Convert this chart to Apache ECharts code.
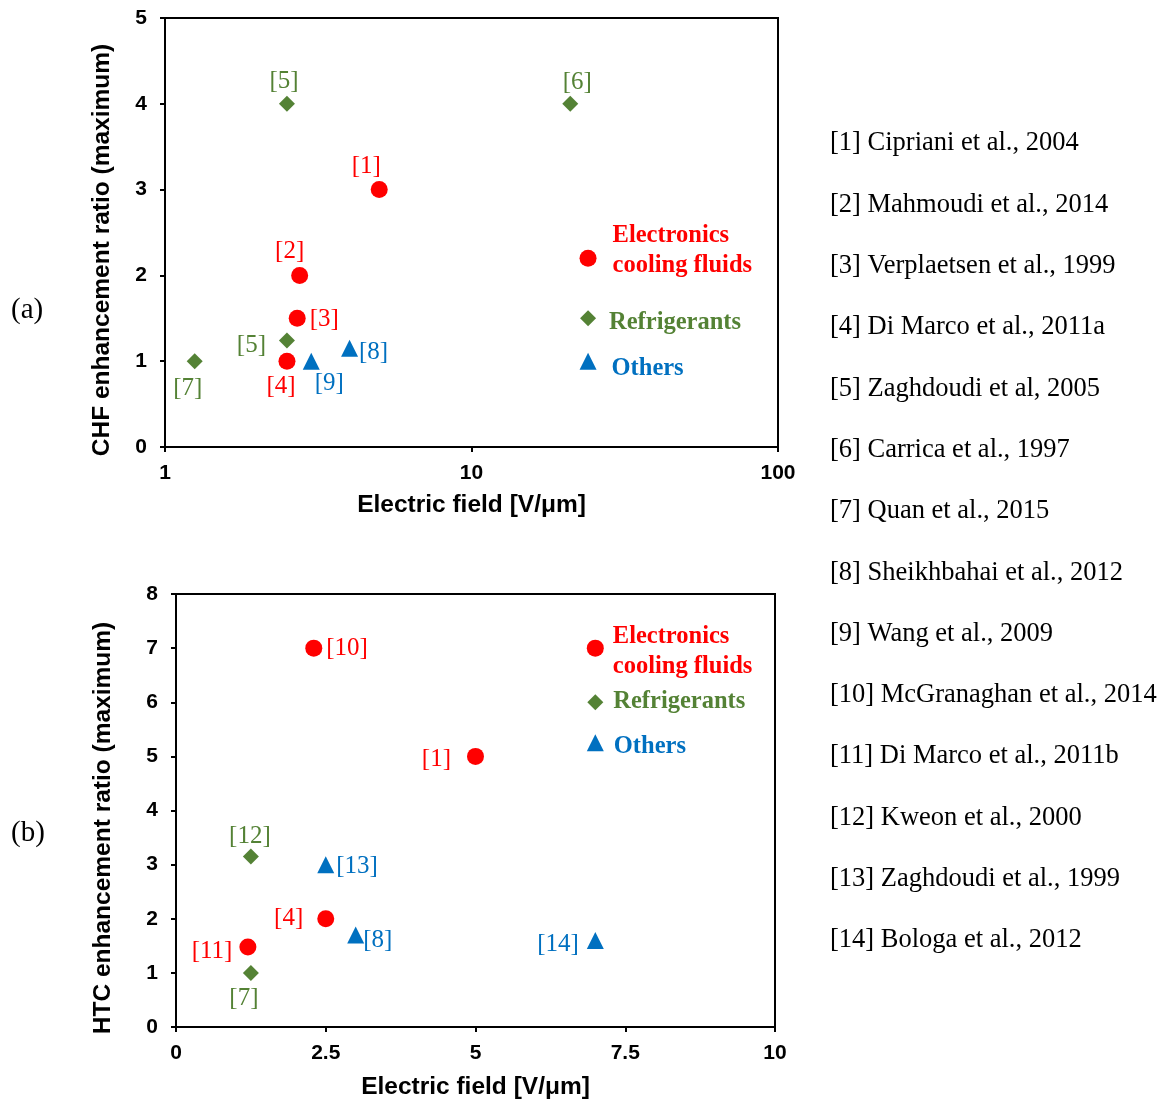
<!DOCTYPE html>
<html lang="en">
<head>
    <meta charset="UTF-8">
    <title>EHD enhancement ratios</title>
    <script src="https://cdn.jsdelivr.net/npm/echarts/dist/echarts.min.js"></script>
    <style>
        html, body { margin: 0; padding: 0; background: #fff; }
        #chart { width: 1166px; height: 1103px; }
    </style>
</head>
<body>
<div id="chart"></div>
<script>
    // (a) CHF enhancement, log x
    var aElecRefs = ['[1]', '[2]', '[3]', '[4]'];
    var aElecX = [5, 2.75, 2.7, 2.5];
    var aElecY = [3, 2, 1.5, 1];
    var aRefrRefs = ['[5]', '[6]', '[5]', '[7]'];
    var aRefrX = [2.5, 21, 2.5, 1.25];
    var aRefrY = [4, 4, 1.24, 1];
    var aOthRefs = ['[9]', '[8]'];
    var aOthX = [3, 4];
    var aOthY = [1, 1.15];

    // (b) HTC enhancement, linear x
    var bElecRefs = ['[10]', '[1]', '[4]', '[11]'];
    var bElecX = [2.3, 5, 2.5, 1.2];
    var bElecY = [7, 5, 2, 1.48];
    var bRefrRefs = ['[12]', '[7]'];
    var bRefrX = [1.25, 1.25];
    var bRefrY = [3.15, 1];
    var bOthRefs = ['[13]', '[8]', '[14]'];
    var bOthX = [2.5, 3, 7];
    var bOthY = [3, 1.7, 1.6];

    // in-plot keys
    var keyNames = ['Electronics\ncooling fluids', 'Refrigerants', 'Others'];
    var aKeyX = 24;
    var aKeyY = [2.2, 1.5, 1.0];
    var bKeyX = 7;
    var bKeyY = [7, 6, 5.25];

    var aTicks = ['1', '10', '100'];
    var refList = [
        '[1] Cipriani et al., 2004',
        '[2] Mahmoudi et al., 2014',
        '[3] Verplaetsen et al., 1999',
        '[4] Di Marco et al., 2011a',
        '[5] Zaghdoudi et al, 2005',
        '[6] Carrica et al., 1997',
        '[7] Quan et al., 2015',
        '[8] Sheikhbahai et al., 2012',
        '[9] Wang et al., 2009',
        '[10] McGranaghan et al., 2014',
        '[11] Di Marco et al., 2011b',
        '[12] Kweon et al., 2000',
        '[13] Zaghdoudi et al., 1999',
        '[14] Bologa et al., 2012'
    ];

    var RED = '#ff0000', GREEN = '#548235', BLUE = '#0070c0';
    var SERIF = 'Liberation Serif, Times New Roman, serif';
    var SANS = 'Liberation Sans, Arial, sans-serif';

    // label placement for each point: [position, offsetX, offsetY]
    var aElecPos = [['top', -13, 3], ['top', -10, 2], ['right', -1, 1], ['bottom', -6, -1]];
    var aRefrPos = [['top', -3, 3], ['top', 7, 4], ['left', -8, 5], ['bottom', -7, 2]];
    var aOthPos = [['bottom', 18, -4], ['right', -4, 4]];
    var bElecPos = [['right', -1, 0], ['left', -11, 3], ['left', -9, 0], ['left', -2, 5]];
    var bRefrPos = [['top', -1, 5], ['bottom', -7, 0]];
    var bOthPos = [['right', -3, 2], ['right', -6, 5], ['left', -3, 4]];

    // key label gap and nudge per chart
    var aKeyDist = [16, 13, 15], aKeyOff = [-8, 4, 7];
    var bKeyDist = [9, 10, 10], bKeyOff = [4, -1, 4];

    function pts(xs, ys, refs, pos, color) {
        return xs.map(function (x, i) {
            return {
                value: [x, ys[i]],
                label: {
                    show: true,
                    formatter: refs[i],
                    position: pos[i][0],
                    offset: [pos[i][1], pos[i][2]],
                    distance: 5,
                    color: color,
                    fontFamily: SERIF,
                    fontSize: 25
                }
            };
        });
    }

    var symbols = ['circle', 'diamond', 'triangle'];
    var colors = [RED, GREEN, BLUE];
    var sizes = [17, 16, 17];

    function dataSeries(idx, i, data) {
        return {
            type: 'scatter', xAxisIndex: idx, yAxisIndex: idx,
            symbol: symbols[i], symbolSize: sizes[i],
            itemStyle: { color: colors[i], opacity: 1 },
            data: data, z: 3
        };
    }

    function keySeries(idx, kx, ky, dist, off) {
        return {
            type: 'scatter', xAxisIndex: idx, yAxisIndex: idx,
            itemStyle: { opacity: 1 },
            data: ky.map(function (y, i) {
                return {
                    value: [kx, y],
                    symbol: symbols[i], symbolSize: sizes[i],
                    itemStyle: { color: colors[i], opacity: 1 },
                    label: {
                        show: true, position: 'right', distance: dist[i],
                        offset: [0, off[i]],
                        formatter: keyNames[i], color: colors[i],
                        fontFamily: SERIF, fontWeight: 'bold', fontSize: 24.5, lineHeight: 30
                    }
                };
            })
        };
    }

    function yAxis(idx, max, name, gap) {
        return {
            gridIndex: idx, type: 'value', min: 0, max: max, interval: 1,
            name: name, nameLocation: 'middle', nameGap: gap,
            nameTextStyle: { fontFamily: SANS, fontWeight: 'bold', fontSize: 24.5, color: '#000', padding: [0, 35, 0, 0] },
            axisLine: { show: true, lineStyle: { color: '#000', width: 2 } },
            axisTick: { show: true, length: 5, lineStyle: { color: '#000', width: 2 } },
            axisLabel: { fontFamily: SANS, fontWeight: 'bold', fontSize: 21, color: '#000', margin: 18 },
            splitLine: { show: false }
        };
    }

    var xAxisStyle = {
        name: 'Electric field [V/\u03bcm]', nameLocation: 'middle',
        nameTextStyle: { fontFamily: SANS, fontWeight: 'bold', fontSize: 24.5, color: '#000' },
        axisLine: { show: true, lineStyle: { color: '#000', width: 2 } },
        axisTick: { show: true, length: 5, lineStyle: { color: '#000', width: 2 } },
        axisLabel: { fontFamily: SANS, fontWeight: 'bold', fontSize: 21, color: '#000', margin: 16 },
        splitLine: { show: false }
    };

    var chart = echarts.init(document.getElementById('chart'), null, { renderer: 'canvas' });

    var graphics = refList.map(function (t, i) {
        return {
            type: 'text', left: 830, top: 130 + i * 61.3,
            style: { text: t, fontFamily: SERIF, fontSize: 26.5, fill: '#000' }
        };
    });
    graphics.push({ type: 'text', left: 11, top: 296, style: { text: '(a)', fontFamily: SERIF, fontSize: 29, fill: '#000' } });
    graphics.push({ type: 'text', left: 11, top: 819, style: { text: '(b)', fontFamily: SERIF, fontSize: 29, fill: '#000' } });

    chart.setOption({
        animation: false,
        backgroundColor: '#fff',
        grid: [
            { left: 165, top: 18, width: 613, height: 429, show: true, borderColor: '#000', borderWidth: 2 },
            { left: 176, top: 594, width: 599, height: 433, show: true, borderColor: '#000', borderWidth: 2 }
        ],
        xAxis: [
            Object.assign({}, xAxisStyle, {
                gridIndex: 0, type: 'log', logBase: 10, min: 1, max: 100, nameGap: 46,
                minorTick: { show: false },
                axisLabel: Object.assign({}, xAxisStyle.axisLabel, {
                    formatter: function (v) { return aTicks[Math.round(Math.log10(v))]; }
                })
            }),
            Object.assign({}, xAxisStyle, {
                gridIndex: 1, type: 'value', min: 0, max: 10, interval: 2.5, nameGap: 48
            })
        ],
        yAxis: [
            yAxis(0, 5, 'CHF enhancement ratio (maximum)', 50),
            yAxis(1, 8, 'HTC enhancement ratio (maximum)', 60)
        ],
        graphic: graphics,
        series: [
            dataSeries(0, 0, pts(aElecX, aElecY, aElecRefs, aElecPos, RED)),
            dataSeries(0, 1, pts(aRefrX, aRefrY, aRefrRefs, aRefrPos, GREEN)),
            dataSeries(0, 2, pts(aOthX, aOthY, aOthRefs, aOthPos, BLUE)),
            keySeries(0, aKeyX, aKeyY, aKeyDist, aKeyOff),
            dataSeries(1, 0, pts(bElecX, bElecY, bElecRefs, bElecPos, RED)),
            dataSeries(1, 1, pts(bRefrX, bRefrY, bRefrRefs, bRefrPos, GREEN)),
            dataSeries(1, 2, pts(bOthX, bOthY, bOthRefs, bOthPos, BLUE)),
            keySeries(1, bKeyX, bKeyY, bKeyDist, bKeyOff)
        ]
    });
</script>
</body>
</html>
